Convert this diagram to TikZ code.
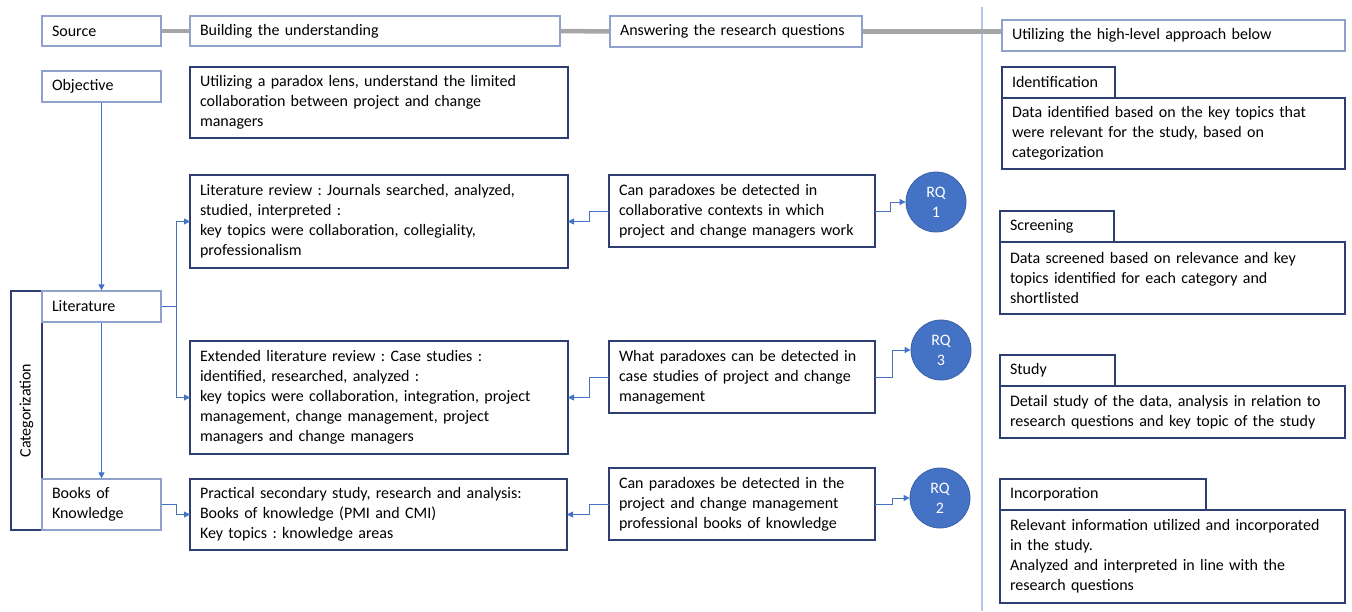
\documentclass[tikz,border=0pt]{standalone}
\usepackage{fontspec}
\setmainfont{Carlito}
\frenchspacing
\usetikzlibrary{arrows.meta,positioning}
\definecolor{navy}{RGB}{47,62,112}
\definecolor{paleblue}{RGB}{143,162,204}
\definecolor{rqblue}{RGB}{68,114,196}
\definecolor{sepblue}{RGB}{180,199,231}
\definecolor{bargray}{RGB}{166,166,166}
\begin{document}
\begin{tikzpicture}[x=1pt,y=-1pt]
	\tikzstyle{every node} = [font=\fontsize{16}{20}\selectfont]
	\tikzstyle{lightbox} = [draw=paleblue,line width=1.2pt,inner xsep=10pt,align=left]
	\tikzstyle{darkbox} = [draw=navy,line width=1.6pt,inner xsep=10pt,outer sep=0pt,align=left]
	\tikzstyle{rq} = [circle,fill=rqblue,draw=rqblue!85!black,line width=0.8pt,minimum size=60pt,inner sep=0pt,text=white,align=center]
	\tikzstyle{link} = [draw=rqblue,line width=0.9pt,-{Triangle[length=6pt,width=6pt]}]
	\tikzstyle{bar} = [draw=bargray,line width=4.5pt]

	\useasboundingbox (0,0) rectangle (1352,611);

	% divider between the two halves
	\coordinate (divtop) at (982,7);
	\coordinate (divbot) at (982,611);
	\draw[sepblue,line width=1.5pt] (divtop) -- (divbot);

	% header row
	\node[lightbox,text width=99pt,minimum height=30pt] (src) at (101.5,31) {Source};
	\node[lightbox,text width=350pt,minimum height=30pt] (build) at (375,31) {Building the understanding};
	\node[lightbox,text width=232pt,minimum height=31pt] (answer) at (736,31.5) {Answering the research questions};
	\node[lightbox,text width=323pt,minimum height=31pt] (approach) at (1173.5,35.5) {Utilizing the high-level approach below};

	\draw[bar] (src.east) -- (build.west);
	\draw[bar] (build.east) -- (answer.west);
	\draw[bar] (answer.east) -- (answer.east -| approach.west);

	% left column
	\node[darkbox,rotate=90,minimum width=239pt,minimum height=31pt,align=center] (cat) at (26.5,410.5) {Categorization};
	\node[lightbox,text width=99pt,minimum height=31pt] (obj) at (101.5,86.5) {Objective};
	\node[lightbox,text width=99pt,minimum height=31pt] (lit) at (101.5,306.5) {Literature};
	\node[lightbox,text width=99pt,minimum height=51pt] (books) at (101.5,504.5) {Books of\\Knowledge};

	% understanding
	\node[darkbox,text width=358pt,minimum height=71pt] (goal) at (379,102.5) {Utilizing a paradox lens, understand the limited\\collaboration between project and change\\managers};
	\node[darkbox,text width=358pt,minimum height=93pt] (litrev) at (379,221.5) {Literature review : Journals searched, analyzed,\\studied, interpreted :\\key topics were collaboration, collegiality,\\professionalism};
	\node[darkbox,text width=358pt,minimum height=113pt] (extlit) at (379,397.5) {Extended literature review : Case studies :\\identified, researched, analyzed :\\key topics were collaboration, integration, project\\management, change management, project\\managers and change managers};
	\node[darkbox,text width=357pt,minimum height=71pt] (prac) at (378.5,514.5) {Practical secondary study, research and analysis:\\Books of knowledge (PMI and CMI)\\Key topics : knowledge areas};

	% research questions
	\node[darkbox,text width=246pt,minimum height=72pt] (rq1q) at (742,211) {Can paradoxes be detected in\\collaborative contexts in which\\project and change managers work};
	\node[darkbox,text width=246pt,minimum height=72pt] (rq3q) at (742,377) {What paradoxes can be detected in\\case studies of project and change\\management};
	\node[darkbox,text width=246pt,minimum height=72pt] (rq2q) at (742,504) {Can paradoxes be detected in the\\project and change management\\professional books of knowledge};
	\node[rq] (rq1) at (936,202) {RQ\\1};
	\node[rq] (rq3) at (941,350) {RQ\\3};
	\node[rq] (rq2) at (940,498) {RQ\\2};

	% approach
	\node[darkbox,text width=323pt,minimum height=71pt] (idbody) at (1173.5,133.5) {Data identified based on the key topics that\\were relevant for the study, based on\\categorization};
	\node[darkbox,text width=93pt,minimum height=31pt,anchor=south west] (idtab) at (idbody.north west) {Identification};
	\node[darkbox,text width=325pt,minimum height=72pt] (scrbody) at (1172.5,278) {Data screened based on relevance and key\\topics identified for each category and\\shortlisted};
	\node[darkbox,text width=94pt,minimum height=31pt,anchor=south west] (scrtab) at (scrbody.north west) {Screening};
	\node[darkbox,text width=325pt,minimum height=52pt] (studybody) at (1172.5,412) {Detail study of the data, analysis in relation to\\research questions and key topic of the study};
	\node[darkbox,text width=95pt,minimum height=31pt,anchor=south west] (studytab) at (studybody.north west) {Study};
	\node[darkbox,text width=325pt,minimum height=93pt] (incbody) at (1172.5,556.5) {Relevant information utilized and incorporated\\in the study.\\Analyzed and interpreted in line with the\\research questions};
	\node[darkbox,text width=186pt,minimum height=31pt,anchor=south west] (inctab) at (incbody.north west) {Incorporation};

	% connectors
	\draw[link] (obj) -- (lit);
	\draw[link] (lit) -- (books);
	\draw[link] (lit.east) -- ++(15,0) |- (litrev.west);
	\draw[link] (lit.east) -- ++(15,0) |- (extlit.west);
	\draw[link] (books.east) -- ++(15,0) |- (prac.west);
	\draw[link] (rq1q.west) -- ++(-20,0) |- (litrev.east);
	\draw[link] (rq3q.west) -- ++(-20,0) |- (extlit.east);
	\draw[link] (rq2q.west) -- ++(-20,0) |- (prac.east);
	\draw[link] (rq1q.east) -- ++(15,0) |- (rq1.west);
	\draw[link] (rq3q.east) -- ++(17,0) |- (rq3.west);
	\draw[link] (rq2q.east) -- ++(17,0) |- (rq2.west);
\end{tikzpicture}
\end{document}
